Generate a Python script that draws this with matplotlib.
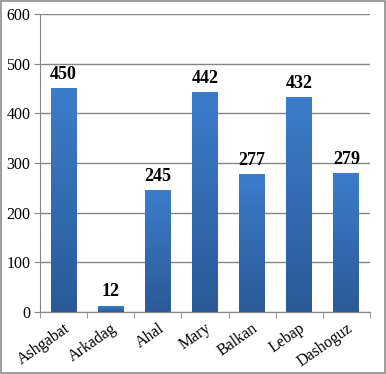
import numpy as np
import matplotlib
matplotlib.use("Agg")
import matplotlib.pyplot as plt
from matplotlib.colors import LinearSegmentedColormap
from matplotlib.patches import Rectangle

regions = ['Ashgabat', 'Arkadag', 'Ahal', 'Mary', 'Balkan', 'Lebap', 'Dashoguz']
counts = [450, 12, 245, 442, 277, 432, 279]
yticks = [0, 100, 200, 300, 400, 500, 600]

plt.rcParams['font.family'] = ['Liberation Serif', 'DejaVu Serif']

fig = plt.figure(figsize=(3.86, 3.74), dpi=100)
ax = fig.add_axes([40/386, 62/374, 330/386, 298/374])

grid_col = '#868686'
cmap = LinearSegmentedColormap.from_list('bar', ['#2b5a97', '#3c7dcb'])

x = np.arange(len(regions))
width = 0.55
bars = ax.bar(x, counts, width=width, color='none', zorder=3)
# vertical gradient inside every bar
grad = np.linspace(0, 1, 256).reshape(-1, 1)
for b in bars:
    x0, y0 = b.get_x(), b.get_y()
    w, h = b.get_width(), b.get_height()
    im = ax.imshow(grad, cmap=cmap, origin='lower', aspect='auto',
                   extent=[x0, x0 + w, y0, y0 + h], zorder=3)

for xi, v in zip(x, counts):
    ax.annotate(str(v), (xi, v), xytext=(0, 4), textcoords='offset points',
                ha='center', va='bottom', fontsize=13, fontweight='bold')

ax.set_xlim(-0.5, len(regions) - 0.5)
ax.set_ylim(0, 600)
ax.set_yticks(yticks)
ax.yaxis.grid(True, color=grid_col, lw=1)
ax.set_axisbelow(True)

ax.set_xticks(x)
ax.set_xticklabels(regions, rotation=35, ha='right', rotation_mode='anchor', fontsize=11.5)
ax.tick_params(axis='x', length=0, pad=6)
ax.set_xticks(np.arange(-0.5, len(regions)), minor=True)
ax.tick_params(axis='x', which='minor', length=4, color=grid_col, direction='out')
ax.tick_params(axis='y', length=4, color=grid_col, labelsize=11.5, pad=3)

for s in ['top', 'right']:
    ax.spines[s].set_visible(False)
for s in ['left', 'bottom']:
    ax.spines[s].set_color(grid_col)

fig.patches.append(Rectangle((0.002, 0.002), 0.995, 0.995, transform=fig.transFigure,
                             fill=False, edgecolor='#8c8c8c', lw=1.2))

fig.savefig('out.png', dpi=100)
